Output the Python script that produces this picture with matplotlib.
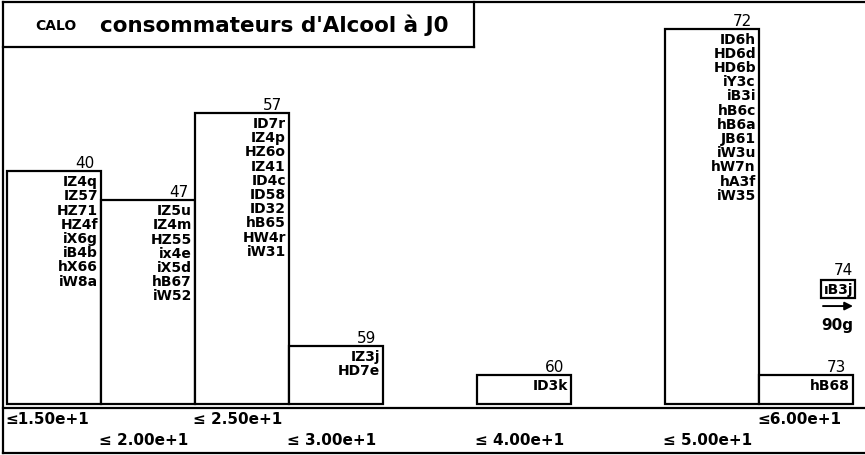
import matplotlib
matplotlib.use("Agg")
import matplotlib.pyplot as plt
from matplotlib.patches import Rectangle

# bins (left edge, width 5) and heights
bin_left = [10, 15, 20, 25, 35, 45, 50]
bin_width = 5
heights = [8, 7, 10, 2, 1, 12.9, 1]
first_obs = ["40", "47", "57", "59", "60", "72", "73"]
members = [
    ["IZ4q", "IZ57", "HZ71", "HZ4f", "iX6g", "iB4b", "hX66", "iW8a"],
    ["IZ5u", "IZ4m", "HZ55", "ix4e", "iX5d", "hB67", "iW52"],
    ["ID7r", "IZ4p", "HZ6o", "IZ41", "ID4c", "ID58", "ID32", "hB65", "HW4r", "iW31"],
    ["IZ3j", "HD7e"],
    ["ID3k"],
    ["ID6h", "HD6d", "HD6b", "iY3c", "iB3i", "hB6c", "hB6a", "JB61", "iW3u",
     "hW7n", "hA3f", "iW35"],
    ["hB68"],
]
tick_labels = ["≤1.50e+1", "≤ 2.00e+1", "≤ 2.50e+1", "≤ 3.00e+1",
               "≤ 4.00e+1", "≤ 5.00e+1", "≤6.00e+1"]
tick_row = [0, 1, 0, 1, 1, 1, 0]

# outlier beyond the last bin
out_obs = "74"
out_name = "ıB3j"
out_value = "90g"

W, H = 865, 456
fig = plt.figure(figsize=(W / 100, H / 100), dpi=100)
ax = fig.add_axes([0, 0, 1, 1])
px_x = 18.8   # pixels per x unit
px_y = 29.1   # pixels per y unit
x0_px, base_px = 7, 405
ax.set_xlim(10 - x0_px / px_x, 10 + (W - x0_px) / px_x)
ax.set_ylim(-(H - base_px) / px_y, base_px / px_y)
ax.axis("off")

# bars
for left, h in zip(bin_left, heights):
    ax.add_patch(Rectangle((left, 0), bin_width, h, facecolor="white",
                           edgecolor="black", linewidth=1.6, zorder=2))

# labels on each bar
for left, h, num, names in zip(bin_left, heights, first_obs, members):
    right = left + bin_width
    ax.annotate(num, xy=(right, h), xytext=(-7, 1), textcoords="offset pixels",
                ha="right", va="bottom", fontsize=11, zorder=3)
    for i, nm in enumerate(names):
        ax.annotate(nm, xy=(right, h), xytext=(-3, -10 - 14.2 * i),
                    textcoords="offset pixels", ha="right", va="center",
                    fontsize=10, fontweight="bold", zorder=3)

# bin bound labels under the axis
for left, lab, row in zip(bin_left, tick_labels, tick_row):
    ax.annotate(lab, xy=(left, 0), xytext=(-2, -15 - 21 * row),
                textcoords="offset pixels", ha="left", va="center",
                fontsize=11, fontweight="bold")

# outlier box with arrow
ox = bin_left[-1] + bin_width
oy = 3.95
ax.text(ox, oy, out_name, ha="right", va="center", fontsize=10, fontweight="bold",
        bbox=dict(boxstyle="square,pad=0.15", facecolor="white",
                  edgecolor="black", linewidth=1.6))
ax.annotate(out_obs, xy=(ox, oy), xytext=(0, 12), textcoords="offset pixels",
            ha="right", va="bottom", fontsize=11)
arrow_y = oy - 17 / px_y
ax.annotate("", xy=(ox, arrow_y), xytext=(ox - 30 / px_x, arrow_y),
            arrowprops=dict(arrowstyle="-|>", lw=1.4, color="black",
                            mutation_scale=12, shrinkA=0, shrinkB=0))
ax.annotate(out_value, xy=(ox, oy), xytext=(0, -35), textcoords="offset pixels",
            ha="right", va="center", fontsize=11, fontweight="bold")

# frame lines (figure pixel coords)
def hline(y, x1, x2, lw=1.6):
    fig.add_artist(plt.Line2D([x1 / W, x2 / W], [1 - y / H, 1 - y / H],
                              color="black", lw=lw))

def vline(x, y1, y2, lw=1.6):
    fig.add_artist(plt.Line2D([x / W, x / W], [1 - y1 / H, 1 - y2 / H],
                              color="black", lw=lw))

hline(3, 3, W)
vline(3, 3, 454)
hline(48, 3, 474)
vline(474, 3, 48)
hline(409, 3, W)
hline(454, 3, W)

# title
fig.text(35 / W, 1 - 26 / H, "CALO", fontsize=10, fontweight="bold", va="center")
fig.text(100 / W, 1 - 25 / H, "consommateurs d'Alcool à J0", fontsize=15.5,
         fontweight="bold", va="center")

fig.savefig("out.png", dpi=100)
